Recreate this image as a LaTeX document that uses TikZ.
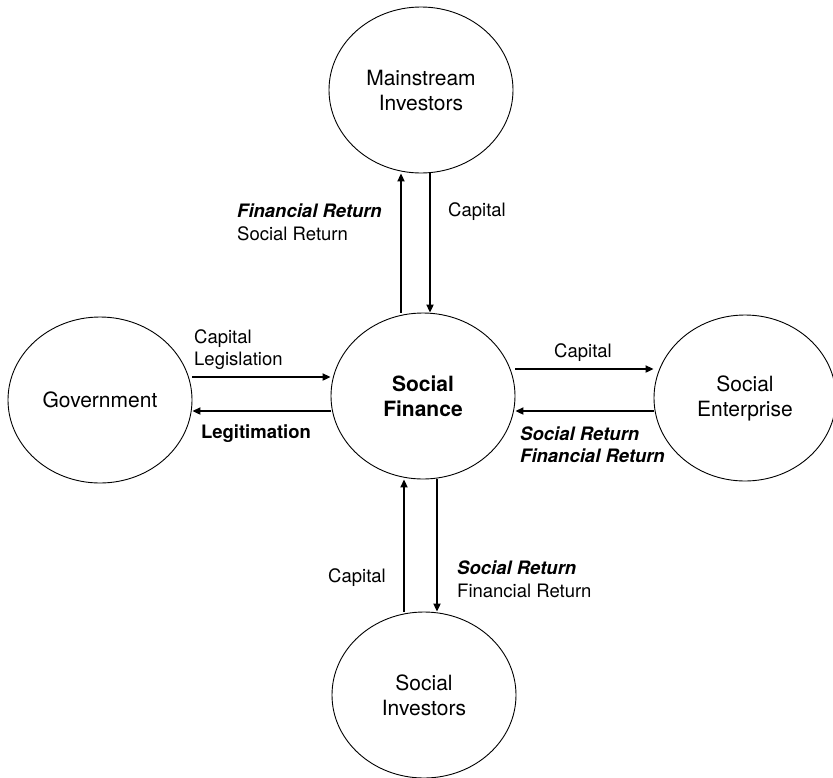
\documentclass[tikz,border=0pt]{standalone}
\usepackage{fontspec}
\setmainfont{TeX Gyre Heros}
\usetikzlibrary{shapes.geometric,arrows.meta}

\tikzset{
  party/.style={draw, ellipse, line width=0.9pt, inner sep=0pt,
    minimum width=184pt, minimum height=166pt, align=center,
    font=\fontsize{21}{25}\selectfont},
  flow/.style={line width=2.4pt, -{Triangle[length=8pt,width=7pt]}},
  tag/.style={inner sep=0pt, align=left, font=\fontsize{18.5}{22.5}\selectfont},
}

\begin{document}
\begin{tikzpicture}[x=1pt, y=-1pt]
  \useasboundingbox (0,0) rectangle (833,777);

  % actors
  \node[party] (mi)  at (421,90)  {Mainstream\\Investors};
  \node[party] (sf)  at (423,396) {\bfseries Social\\\bfseries Finance};
  \node[party] (gov) at (100,400) {Government};
  \node[party, minimum width=182pt] (se) at (745,398) {Social\\Enterprise};
  \node[party] (si)  at (424,695) {Social\\Investors};

  % Social Finance <-> Mainstream Investors
  \draw[flow] ([xshift=-22pt]sf.north) -- ([xshift=-20pt]mi.south);
  \draw[flow] ([xshift=9pt]mi.south) -- ([xshift=7pt]sf.north);
  \node[tag, anchor=west] (miret) at (237,222.5)
    {\textbf{\textit{Financial Return}}\\Social Return};
  \node[tag] (micap) at (477,212) {Capital};

  % Government <-> Social Finance
  \draw[flow] ([yshift=23pt]gov.east) -- ([yshift=19pt]sf.west);
  \draw[flow] ([yshift=-15pt]sf.west) -- ([yshift=-11pt]gov.east);
  \node[tag, anchor=west] (govin) at (194,349.5) {Capital\\Legislation};
  \node[tag] (govout) at (256,434) {\textbf{Legitimation}};

  % Social Finance <-> Social Enterprise
  \draw[flow] ([yshift=27pt]sf.east) -- ([yshift=29pt]se.west);
  \draw[flow] ([yshift=-13pt]se.west) -- ([yshift=-15pt]sf.east);
  \node[tag] (secap) at (583,353) {Capital};
  \node[tag, anchor=west] (seret) at (520,444.5)
    {\textbf{\textit{Social Return}}\\\textbf{\textit{Financial Return}}};

  % Social Investors <-> Social Finance
  \draw[flow] ([xshift=-20pt]si.north) -- ([xshift=-19pt]sf.south);
  \draw[flow] ([xshift=14pt]sf.south) -- ([xshift=13pt]si.north);
  \node[tag] (sicap) at (357,578) {Capital};
  \node[tag, anchor=west] (siret) at (457,579.5)
    {\textbf{\textit{Social Return}}\\Financial Return};
\end{tikzpicture}
\end{document}
